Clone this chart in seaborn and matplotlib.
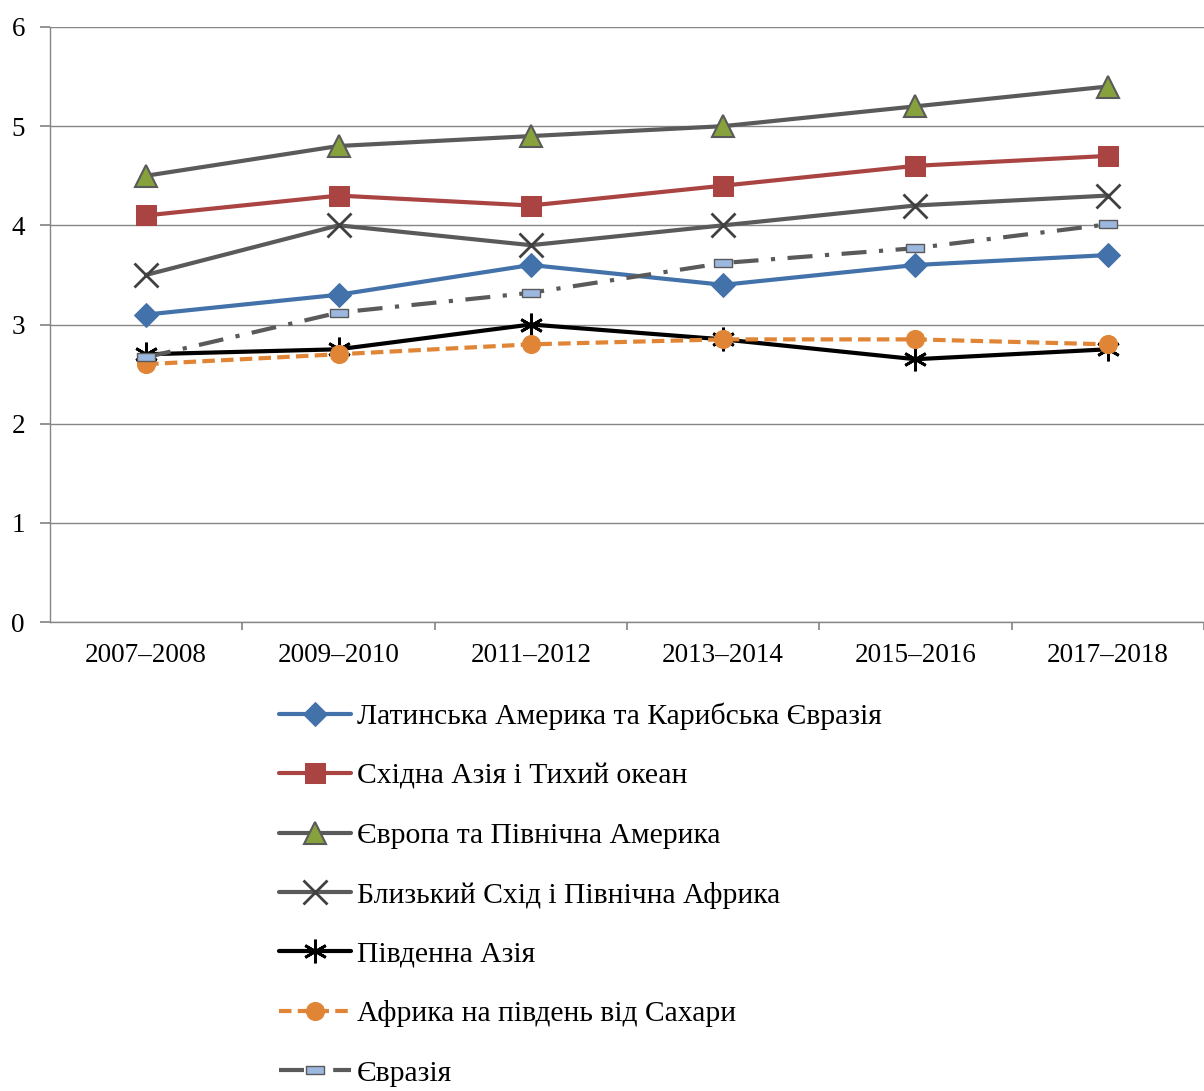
import matplotlib
matplotlib.use("Agg")
import matplotlib.pyplot as plt
import seaborn as sns
import numpy as np
import pandas as pd

periods = ["2007–2008", "2009–2010", "2011–2012", "2013–2014", "2015–2016", "2017–2018"]
latin = [3.1, 3.3, 3.6, 3.4, 3.6, 3.7]
east_asia = [4.1, 4.3, 4.2, 4.4, 4.6, 4.7]
europe = [4.5, 4.8, 4.9, 5.0, 5.2, 5.4]
mena = [3.5, 4.0, 3.8, 4.0, 4.2, 4.3]
south_asia = [2.7, 2.75, 3.0, 2.85, 2.65, 2.75]
ssa = [2.6, 2.7, 2.8, 2.85, 2.85, 2.8]
eurasia = [2.67, 3.12, 3.32, 3.62, 3.77, 4.01]

labels = ["Латинська Америка та Карибська Євразія",
          "Східна Азія і Тихий океан",
          "Європа та Північна Америка",
          "Близький Схід і Північна Африка",
          "Південна Азія",
          "Африка на південь від Сахари",
          "Євразія"]

sns.set_theme(style="white")
plt.rcParams['font.family'] = ['Liberation Serif', 'DejaVu Serif']
plt.rcParams['text.color'] = 'black'

fig = plt.figure(figsize=(12.04, 10.91), dpi=100)
ax = fig.add_axes([50/1204, 1-622/1091, 1-50/1204, (622-27)/1091])

xs = np.arange(len(periods))
rect = [(-1, -0.45), (1, -0.45), (1, 0.45), (-1, 0.45), (-1, -0.45)]

styles = [
    (latin, dict(color="#4372AA", marker="D", markersize=12, markerfacecolor="#4372AA", markeredgecolor="#4372AA", ls="-")),
    (east_asia, dict(color="#AA4442", marker="s", markersize=14, markerfacecolor="#AA4442", markeredgecolor="#AA4442", ls="-")),
    (europe, dict(color="#5A5A5A", marker="^", markersize=16, markerfacecolor="#87A23D", markeredgecolor="#5A5A5A", markeredgewidth=1.5, ls="-")),
    (mena, dict(color="#5A5A5A", marker="x", markersize=17, markeredgecolor="#404040", markeredgewidth=2, ls="-")),
    (south_asia, dict(color="#000000", marker=(6, 2, 0), markersize=17, markeredgecolor="#000000", markeredgewidth=2, ls="-")),
    (ssa, dict(color="#E08536", marker="o", markersize=13, markerfacecolor="#E08536", markeredgecolor="#E08536", ls=(0, (3, 1.5)))),
    (eurasia, dict(color="#5A5A5A", marker=rect, markersize=13, markerfacecolor="#9DB8DE", markeredgecolor="#5A5A5A", markeredgewidth=1, ls=(0, (6, 3, 1, 3)))),
]

for (vals, kw), lab in zip(styles, labels):
    df = pd.DataFrame({"x": xs, "y": vals})
    sns.lineplot(data=df, x="x", y="y", ax=ax, linewidth=3, label=lab, **kw)

ax.set_xlim(-0.5, 5.454)
ax.set_ylim(0, 6)
ax.set_yticks(range(0, 7))
ax.set_yticklabels([str(i) for i in range(0, 7)], fontsize=19.5)
ax.set_xticks(xs + 0.5)
ax.set_xticks(xs, minor=True)
ax.set_xticklabels([])
ax.set_xticklabels(periods, minor=True, fontsize=19.5)
ax.tick_params(axis="x", which="major", length=5.5, color="#868686", direction="out", bottom=True)
ax.tick_params(axis="x", which="minor", length=0, pad=15, colors="black")
ax.tick_params(axis="y", length=7, color="#868686", labelcolor="black", direction="out", left=True, pad=11)
ax.set_xlabel("")
ax.set_ylabel("")
ax.grid(axis="y", color="#868686", linewidth=1)
ax.grid(axis="x", visible=False)
for s in ["top", "right"]:
    ax.spines[s].set_visible(False)
for s in ["left", "bottom"]:
    ax.spines[s].set_color("#868686")
    ax.spines[s].set_linewidth(1)

handles, labs = ax.get_legend_handles_labels()
ax.legend_.remove()
leg = fig.legend(handles, labs, loc="upper left", bbox_to_anchor=(279/1204, 1-703/1091),
                 frameon=False, fontsize=21.3, labelspacing=1.10, handlelength=2.42,
                 handletextpad=0.22, borderaxespad=0, borderpad=0)
for t in leg.get_texts():
    t.set_color("black")

fig.savefig("out.png", dpi=100)
